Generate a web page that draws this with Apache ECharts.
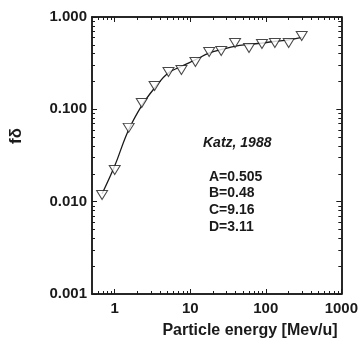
<!DOCTYPE html>
<html>
<head>
<meta charset="utf-8">
<script src="https://cdn.jsdelivr.net/npm/echarts@6/dist/echarts.min.js"></script>
<style>
  html, body { margin: 0; padding: 0; background: #fff; }
  #chart { width: 361px; height: 346px; }
</style>
</head>
<body>
<div id="chart"></div>
<script>
// measured points (triangles)
const energies = [0.68, 1.0, 1.53, 2.28, 3.37, 5.15, 7.64, 11.7, 17.8, 25.7, 39.2, 60, 89, 132, 201, 299];
const fValues = [0.0118, 0.022, 0.063, 0.117, 0.179, 0.254, 0.267, 0.326, 0.418, 0.428, 0.523, 0.462, 0.51, 0.523, 0.523, 0.623];

// fitted curve
const fitEnergies = [0.68, 1, 1.5, 2.3, 3.4, 5, 7.5, 11.5, 18, 26, 40, 60, 90, 130, 200, 300];
const fitValues = [0.0122, 0.0245, 0.058, 0.111, 0.172, 0.245, 0.29, 0.342, 0.408, 0.445, 0.485, 0.504, 0.523, 0.543, 0.564, 0.6];

const xMajorTicks = [1, 10, 100, 1000];
const xMinorTicks = [0.6, 0.7, 0.8, 0.9, 2, 3, 4, 5, 6, 7, 8, 9, 20, 30, 40, 50, 60, 70, 80, 90, 200, 300, 400, 500, 600, 700, 800, 900];
const yMajorTicks = [0.001, 0.01, 0.1, 1];
const yMinorTicks = [0.002, 0.003, 0.004, 0.005, 0.006, 0.007, 0.008, 0.009,
  0.02, 0.03, 0.04, 0.05, 0.06, 0.07, 0.08, 0.09, 0.2, 0.3, 0.4, 0.5, 0.6, 0.7, 0.8, 0.9];

const sourceLabel = "Katz, 1988";
const fitParams = ["A=0.505", "B=0.48", "C=9.16", "D=3.11"];

const FONT = '"Liberation Sans", Arial, sans-serif';
const INK = "#1a1a1a";

function makeAxis(dim, position, ticks, tickLen, withLabels) {
  const isX = dim === "x";
  const axis = {
    type: "log",
    logBase: 10,
    position: position,
    min: isX ? 0.5 : 0.001,
    max: isX ? 1000 : 1,
    axisLine: { show: true, onZero: false, lineStyle: { color: INK, width: 1.5 } },
    axisTick: { show: true, inside: true, length: tickLen, customValues: ticks, lineStyle: { color: INK, width: 1 } },
    minorTick: { show: false },
    splitLine: { show: false },
    axisLabel: { show: false },
  };
  if (withLabels) {
    axis.axisLabel = {
      show: true,
      customValues: isX ? xMajorTicks : yMajorTicks,
      formatter: (v) => (isX ? String(Math.round(v)) : Number(v).toFixed(3)),
      margin: isX ? 7 : 5,
      color: INK,
      fontFamily: FONT,
      fontWeight: "bold",
      fontSize: 15,
    };
  }
  return axis;
}

const chart = echarts.init(document.getElementById("chart"));

const paramTexts = fitParams.map((t, i) => ({
  type: "text",
  x: 209,
  y: 177 + i * 16.6,
  style: { text: t, font: "bold 14px " + FONT, fill: INK, align: "left", verticalAlign: "middle" },
}));

chart.setOption({
  animation: false,
  backgroundColor: "#fff",
  grid: { left: 92, right: 18, top: 17, bottom: 52 },
  xAxis: [
    makeAxis("x", "bottom", xMajorTicks, 5, true),
    makeAxis("x", "bottom", xMinorTicks, 3, false),
    makeAxis("x", "top", xMajorTicks, 5, false),
    makeAxis("x", "top", xMinorTicks, 3, false),
  ],
  yAxis: [
    makeAxis("y", "left", yMajorTicks, 5, true),
    makeAxis("y", "left", yMinorTicks, 3, false),
    makeAxis("y", "right", yMajorTicks, 5, false),
    makeAxis("y", "right", yMinorTicks, 3, false),
  ],
  series: [
    {
      type: "line",
      xAxisIndex: 0,
      yAxisIndex: 0,
      data: fitEnergies.map((e, i) => [e, fitValues[i]]),
      showSymbol: false,
      smooth: 0.4,
      lineStyle: { color: INK, width: 1.3 },
      z: 2,
    },
    {
      type: "scatter",
      xAxisIndex: 0,
      yAxisIndex: 0,
      data: energies.map((e, i) => [e, fValues[i]]),
      symbol: "triangle",
      symbolRotate: 180,
      symbolSize: [11, 9],
      itemStyle: { color: "#fff", borderColor: INK, borderWidth: 1 },
      z: 3,
    },
  ],
  graphic: [
    {
      type: "text",
      x: 250,
      y: 331,
      style: { text: "Particle energy [Mev/u]", font: "bold 16px " + FONT, fill: INK, align: "center", verticalAlign: "middle" },
    },
    {
      type: "text",
      x: 16,
      y: 136,
      rotation: Math.PI / 2,
      style: { text: "fδ", font: "bold 17px " + FONT, fill: INK, align: "center", verticalAlign: "middle" },
    },
    {
      type: "text",
      x: 203,
      y: 143,
      style: { text: sourceLabel, font: "italic bold 14px " + FONT, fill: INK, align: "left", verticalAlign: "middle" },
    },
    ...paramTexts,
  ],
});
</script>
</body>
</html>
